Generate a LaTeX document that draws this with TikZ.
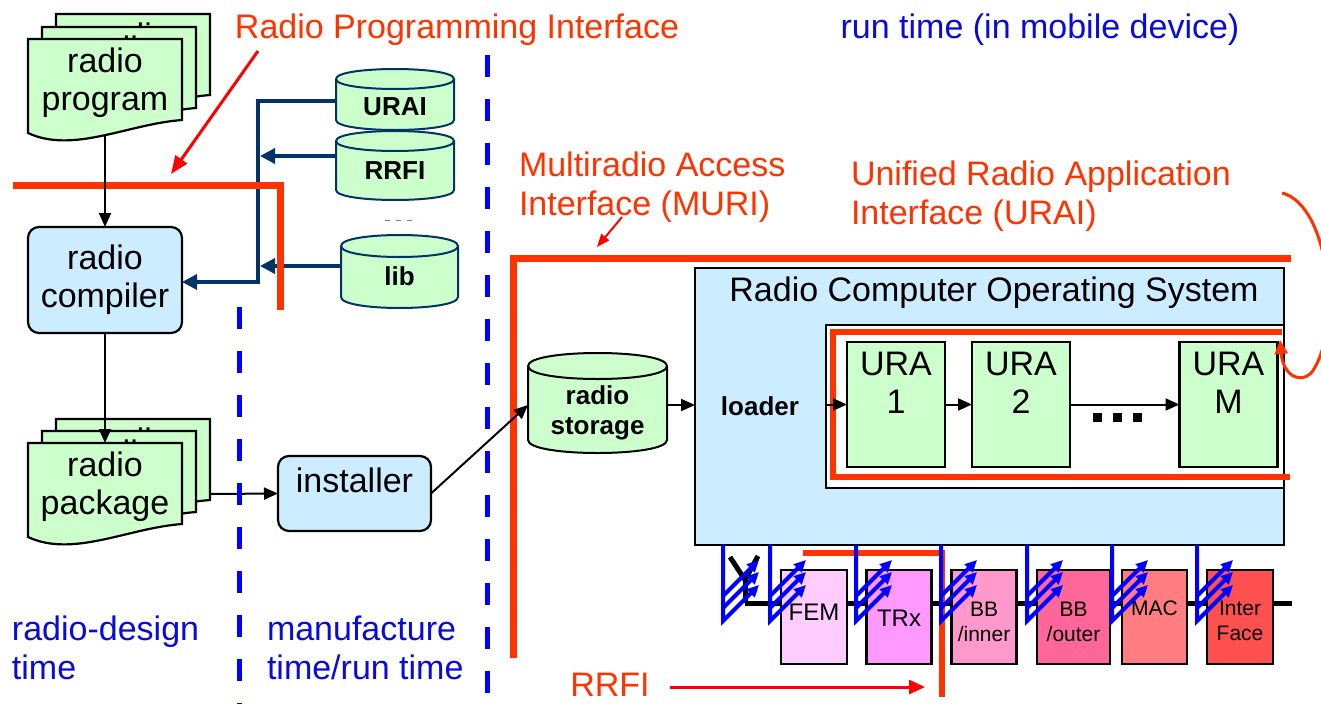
\documentclass[tikz,border=0pt]{standalone}
\usepackage{fontspec}
\setmainfont{Liberation Sans}
\usetikzlibrary{arrows.meta}

\definecolor{ifred}{RGB}{255,51,0}
\definecolor{ptred}{RGB}{255,0,0}
\definecolor{lblblue}{RGB}{10,10,220}
\definecolor{dshblue}{RGB}{0,0,255}
\definecolor{navy}{RGB}{0,51,102}
\definecolor{pgreen}{RGB}{204,255,204}
\definecolor{pblue}{RGB}{204,236,255}
\definecolor{hwfem}{RGB}{255,204,255}
\definecolor{hwtrx}{RGB}{255,153,255}
\definecolor{hwbbi}{RGB}{255,153,204}
\definecolor{hwbbo}{RGB}{255,102,153}
\definecolor{hwmac}{RGB}{255,124,128}
\definecolor{hwif}{RGB}{255,80,80}

% cylinder (drum): left, top, right, bottom, ellipse half-height, outline colour
\newcommand{\drum}[6]{%
  \pgfmathsetmacro\drA{#2+#5}%
  \pgfmathsetmacro\drB{#4-#5}%
  \pgfmathsetmacro\drK{1.3333*#5}%
  \filldraw[fill=pgreen, draw=#6, line width=2pt]
    (#1,\drA) -- (#1,\drB) .. controls (#1,\drB+\drK) and (#3,\drB+\drK) .. (#3,\drB)
    -- (#3,\drA) .. controls (#3,\drA-\drK) and (#1,\drA-\drK) .. (#1,\drA) -- cycle;
  \draw[draw=#6, line width=2pt]
    (#1,\drA) .. controls (#1,\drA+\drK) and (#3,\drA+\drK) .. (#3,\drA);
}

\begin{document}
\begin{tikzpicture}[x=1pt,y=-1pt,
  every node/.style={inner sep=0pt, outer sep=0pt},
  big/.style={font=\fontsize{34}{38}\selectfont, align=center},
  bigl/.style={font=\fontsize{34}{39}\selectfont, align=left, anchor=west},
  cylfont/.style={font=\fontsize{26}{30}\selectfont\bfseries, align=center},
  hwfont/.style={font=\fontsize{21}{25}\selectfont, align=center},
  hwbig/.style={font=\fontsize{24}{28}\selectfont, align=center},
  outl/.style={draw=black, line width=2.2pt},
  roundbox/.style={outl, fill=pblue, rounded corners=11pt},
  urabox/.style={outl, fill=pgreen, minimum width=98pt, minimum height=125pt},
  hwbox/.style={outl, minimum height=94pt},
  flow/.style={draw=black, line width=2pt, -{Triangle[length=14pt,width=12pt]}},
  navyarrow/.style={draw=navy, line width=3.5pt, -{Triangle[length=15pt,width=15pt]}},
  iface/.style={draw=ifred, line width=7pt},
  pointer/.style={draw=ptred, line width=3pt, -{Triangle[length=18pt,width=14pt]}},
  phaseline/.style={draw=dshblue, line width=5pt, dash pattern=on 22pt off 22pt},
  sigarrow/.style={draw=dshblue, line width=4pt, -{Triangle[length=12pt,width=11pt]}},
  pics/sheet/.style={code={
    \filldraw[fill=pgreen, draw=black, line width=2.2pt]
      (0,0) -- (154,0) -- (154,81) .. controls (100,85) and (45,115) .. (0,94) -- cycle;
  }}
]
\useasboundingbox (0,0) rectangle (1321,704);
\fill[white] (0,0) rectangle (1321,704);

% ---------- radio program stack ----------
\pic at (56,14) {sheet};
\node[big] (progback) at (133,58) {radio\\program};
\pic at (42,27) {sheet};
\node[big] (progmid) at (119,71) {radio\\program};
\pic at (28,39) {sheet};
\node[big] (prog) at (105,83) {radio\\program};
\coordinate (progfoot) at (105,136);

% ---------- radio compiler ----------
\node[roundbox, big, minimum width=154pt, minimum height=106pt] (compiler) at (105,280) {radio\\compiler};

% ---------- radio package stack ----------
\pic at (56,419) {sheet};
\node[big] (pkgback) at (133,463) {radio\\package};
\pic at (42,431) {sheet};
\node[big] (pkgmid) at (119,475) {radio\\package};
\pic at (28,443) {sheet};
\node[big] (pkg) at (105,487) {radio\\package};
\coordinate (pkgtop) at (105,443);
\coordinate (pkgside) at (210,494);

% ---------- installer ----------
\node[roundbox, minimum width=153pt, minimum height=75pt] (installer) at (354.5,493.5) {};
\node[big] (installertext) at (354.5,480) {installer};

% ---------- libraries ----------
\drum{336}{69}{454}{130}{10}{navy}
\node[cylfont] (urai) at (395,107) {URAI};
\coordinate (urai-w) at (336,101);
\drum{336}{131}{454}{200}{10}{navy}
\node[cylfont] (rrfi) at (395,171) {RRFI};
\coordinate (rrfi-w) at (336,156);
\draw[gray, line width=1pt, dash pattern=on 5pt off 6pt] (385,220) -- (418,220);
\drum{341}{235}{458}{308}{11}{navy}
\node[cylfont] (lib) at (399.5,276) {lib};
\coordinate (lib-w) at (341,266);

% library links into the compiler
\coordinate (navyknee) at (258,282);
\draw[navyarrow] (urai-w) -| (navyknee) -- (navyknee -| compiler.east);
\draw[navyarrow] (rrfi-w) -- ([xshift=2pt]rrfi-w -| navyknee);
\draw[navyarrow] (lib-w) -- ([xshift=2pt]lib-w -| navyknee);

% ---------- radio storage ----------
\drum{528}{353}{667}{453}{13}{black}
\node[cylfont] (storage) at (597.5,412.5) {radio\\storage};
\coordinate (storage-w) at (528,405);
\coordinate (storage-e) at (667,405);

% ---------- radio computer OS ----------
\node[outl, fill=pblue, line width=2.5pt, minimum width=589pt, minimum height=277pt] (os) at (989.5,406.5) {};
\node[big] (ostitle) at (994,293) {Radio Computer Operating System};
\node[outl, fill=white, line width=1.8pt, minimum width=458pt, minimum height=163pt] (urabay) at (1055,406.5) {};
\node[cylfont] (loader) at (760,406) {loader};
\coordinate (loaderout) at (826,404.5);

\node[urabox] (ura1) at (896,404.5) {};
\node[big] (ura1t) at (896,383) {URA\\1};
\node[urabox] (ura2) at (1021,404.5) {};
\node[big] (ura2t) at (1021,383) {URA\\2};
\node[urabox] (uram) at (1228.5,404.5) {};
\node[big] (uramt) at (1228.5,383) {URA\\M};
\fill (1093,413) rectangle (1102,422);
\fill (1113,413) rectangle (1122,422);
\fill (1133,413) rectangle (1142,422);

% ---------- hardware ----------
\draw[line width=5pt] (745,603) -- (1292,603);
\draw[line width=5pt] (730,557) -- (745,580) -- (758,556);
\draw[line width=5pt] (745,580) -- (745,603);
\node[hwbox, fill=hwfem, minimum width=66pt] (fem) at (814,617) {};
\node[hwbox, fill=hwtrx, minimum width=65pt] (trx) at (899,617) {};
\node[hwbox, fill=hwbbi, minimum width=65pt] (bbi) at (984,617) {};
\node[hwbox, fill=hwbbo, minimum width=73pt] (bbo) at (1073.5,617) {};
\node[hwbox, fill=hwmac, minimum width=65pt] (mac) at (1154.5,617) {};
\node[hwbox, fill=hwif, minimum width=66pt] (intf) at (1240,617) {};
\node[hwbig] (femt) at (814,612) {FEM};
\node[hwbig] (trxt) at (899,618) {TRx};
\node[hwfont] (bbit) at (984,622) {BB\\/inner};
\node[hwfont] (bbot) at (1073.5,622) {BB\\/outer};
\node[hwfont] (mact) at (1154.5,608.5) {MAC};
\node[hwfont] (intft) at (1240,621) {Inter\\Face};

% ---------- interface lines ----------
\draw[iface] (13,185) -- (280,185) -- (280,310);
\draw[iface] (1291,258) -- (513,258) -- (513,658);
\draw[iface, line width=6pt] (1282,332) -- (833,332) -- (833,477) -- (1290,477);
\draw[iface, line width=6pt] (803,553) -- (942,553) -- (942,697);

% configuration paths into the hardware
\foreach \gx in {723,770,856,941,1027,1112,1197} {
  \draw[sigarrow] (\gx,545) -- (\gx,621) -- ++(36,-36);
  \draw[sigarrow] (\gx,608) -- ++(36,-36);
  \draw[sigarrow] (\gx,596) -- ++(36,-36);
}

% ---------- flow ----------
\draw[flow] (progfoot) -- (compiler.north);
\draw[flow] (compiler.south) -- (pkgtop);
\draw[flow] (pkgside) -- (installer.west);
\draw[flow] (installer.east) -- (storage-w);
\draw[flow] (storage-e) -- (storage-e -| os.west);
\draw[flow] (loaderout) -- (ura1.west);
\draw[flow] (ura1.east) -- (ura2.west);
\draw[flow] (ura2.east) -- (uram.west);

% ---------- time boundaries ----------
\draw[phaseline] (239,307) -- (239,704);
\draw[phaseline] (487,55) -- (487,704);

% ---------- labels ----------
\node[big, text=ifred] (rpilabel) at (457,30) {Radio Programming Interface};
\node[big, text=lblblue] (runtimelabel) at (1040,30) {run time (in mobile device)};
\node[bigl, text=ifred] (murilabel) at (519,187.5) {Multiradio Access\\Interface (MURI)};
\node[bigl, text=ifred] (urailabel) at (851,196) {Unified Radio Application\\Interface (URAI)};
\node[bigl, text=lblblue] (designlabel) at (12,648) {radio-design\\time};
\node[bigl, text=lblblue] (mfglabel) at (267,648) {manufacture\\time/run time};
\node[big, text=ifred] (rrfilabel) at (610,685) {RRFI};

% pointers to the interfaces
\coordinate (rpitail) at (258,51);
\coordinate (rpihead) at (171,174);
\draw[pointer] (rpitail) -- (rpihead);
\coordinate (muritail) at (622,217);
\coordinate (murihead) at (597,247);
\draw[pointer, line width=2pt, -{Triangle[length=13pt,width=10pt]}] (muritail) -- (murihead);
\coordinate (rrfitail) at (670,687);
\coordinate (rrfihead) at (925,687);
\draw[pointer, -{Triangle[length=16pt,width=14pt]}] (rrfitail) -- (rrfihead);
\draw[draw=ifred, line width=3pt, -{Triangle[length=14pt,width=13pt]}]
  (1282,193) .. controls (1330,205) and (1342,330) .. (1312,372)
  .. controls (1300,385) and (1283,375) .. (1280,340);
\end{tikzpicture}
\end{document}
